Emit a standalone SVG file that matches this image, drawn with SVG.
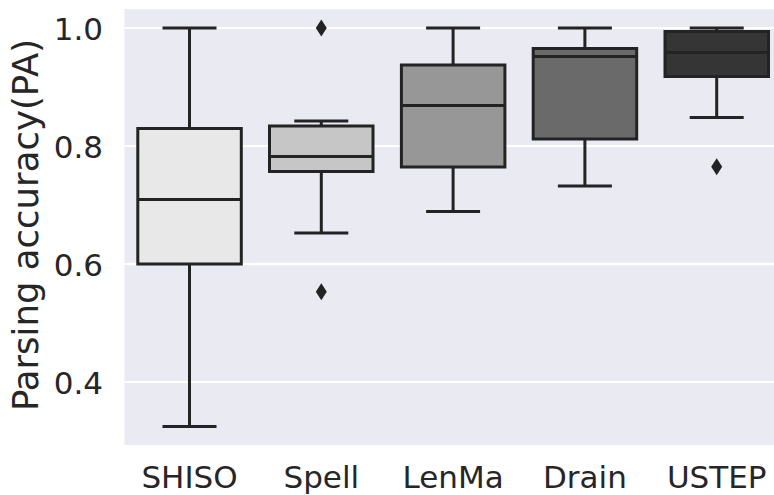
<svg xmlns="http://www.w3.org/2000/svg" width="774" height="495" viewBox="0 0 774 495">
<style>
.grid{stroke:#ffffff;stroke-width:1.8}
.box{stroke:#232323;stroke-width:3}
.wh{stroke:#232323;stroke-width:3;fill:none}
.med{stroke:#232323;stroke-width:3}
.out{fill:#232323}
.tick{font-family:"DejaVu Sans",sans-serif;font-size:31px;fill:#262626}
.lab{font-family:"DejaVu Sans",sans-serif;font-size:35.5px;fill:#262626}
</style>
<rect x="0" y="0" width="774" height="495" fill="#ffffff"/>
<rect x="124.5" y="9" width="650" height="436" fill="#eaeaf2"/>
<g id="grid">
<line class="grid" x1="124.5" y1="28" x2="774" y2="28"/>
<line class="grid" x1="124.5" y1="146" x2="774" y2="146"/>
<line class="grid" x1="124.5" y1="264" x2="774" y2="264"/>
<line class="grid" x1="124.5" y1="382" x2="774" y2="382"/>
</g>
<g id="yticks" class="tick" text-anchor="end">
<text x="103" y="39.5">1.0</text>
<text x="103" y="157.5">0.8</text>
<text x="103" y="275.5">0.6</text>
<text x="103" y="393.5">0.4</text>
</g>
<text class="lab" text-anchor="middle" transform="translate(38,225) rotate(-90)">Parsing accuracy(PA)</text>
<g id="SHISO">
<path class="wh" d="M189.5 28V128.5M162.5 28H216.5M189.5 264V426.5M162.5 426.5H216.5"/>
<rect class="box" x="137.8" y="128.5" width="103.5" height="135.5" fill="#e8e8e8"/>
<line class="med" x1="137.8" y1="199.5" x2="241.3" y2="199.5"/>
<text class="tick" x="189.5" y="488" text-anchor="middle">SHISO</text>
</g>
<g id="Spell">
<path class="wh" d="M321.3 121V126M294.3 121H348.3M321.3 171.5V233M294.3 233H348.3"/>
<rect class="box" x="269.5" y="126" width="103.5" height="45.5" fill="#c6c6c6"/>
<line class="med" x1="269.5" y1="156.5" x2="373" y2="156.5"/>
<path class="out" d="M321.3 19.5L326.8 28L321.3 36.5L315.8 28Z"/>
<path class="out" d="M321.3 283.3L326.8 291.8L321.3 300.3L315.8 291.8Z"/>
<text class="tick" x="321.3" y="488" text-anchor="middle">Spell</text>
</g>
<g id="LenMa">
<path class="wh" d="M453.1 28V65M426.1 28H480.1M453.1 167V211.5M426.1 211.5H480.1"/>
<rect class="box" x="401.4" y="65" width="103.5" height="102" fill="#979797"/>
<line class="med" x1="401.4" y1="105.5" x2="504.9" y2="105.5"/>
<text class="tick" x="453.1" y="488" text-anchor="middle">LenMa</text>
</g>
<g id="Drain">
<path class="wh" d="M584.9 28V48.5M557.9 28H611.9M584.9 139V186M557.9 186H611.9"/>
<rect class="box" x="533.2" y="48.5" width="103.5" height="90.5" fill="#6a6a6a"/>
<line class="med" x1="533.2" y1="56.5" x2="636.7" y2="56.5"/>
<text class="tick" x="584.9" y="488" text-anchor="middle">Drain</text>
</g>
<g id="USTEP">
<path class="wh" d="M716.7 28V31.5M689.7 28H743.7M716.7 76.5V117.5M689.7 117.5H743.7"/>
<rect class="box" x="665" y="31.5" width="103.5" height="45" fill="#353535"/>
<line class="med" x1="665" y1="52.5" x2="768.5" y2="52.5"/>
<path class="out" d="M716.7 158.2L722.2 166.7L716.7 175.2L711.2 166.7Z"/>
<text class="tick" x="716.7" y="488" text-anchor="middle">USTEP</text>
</g>
</svg>
